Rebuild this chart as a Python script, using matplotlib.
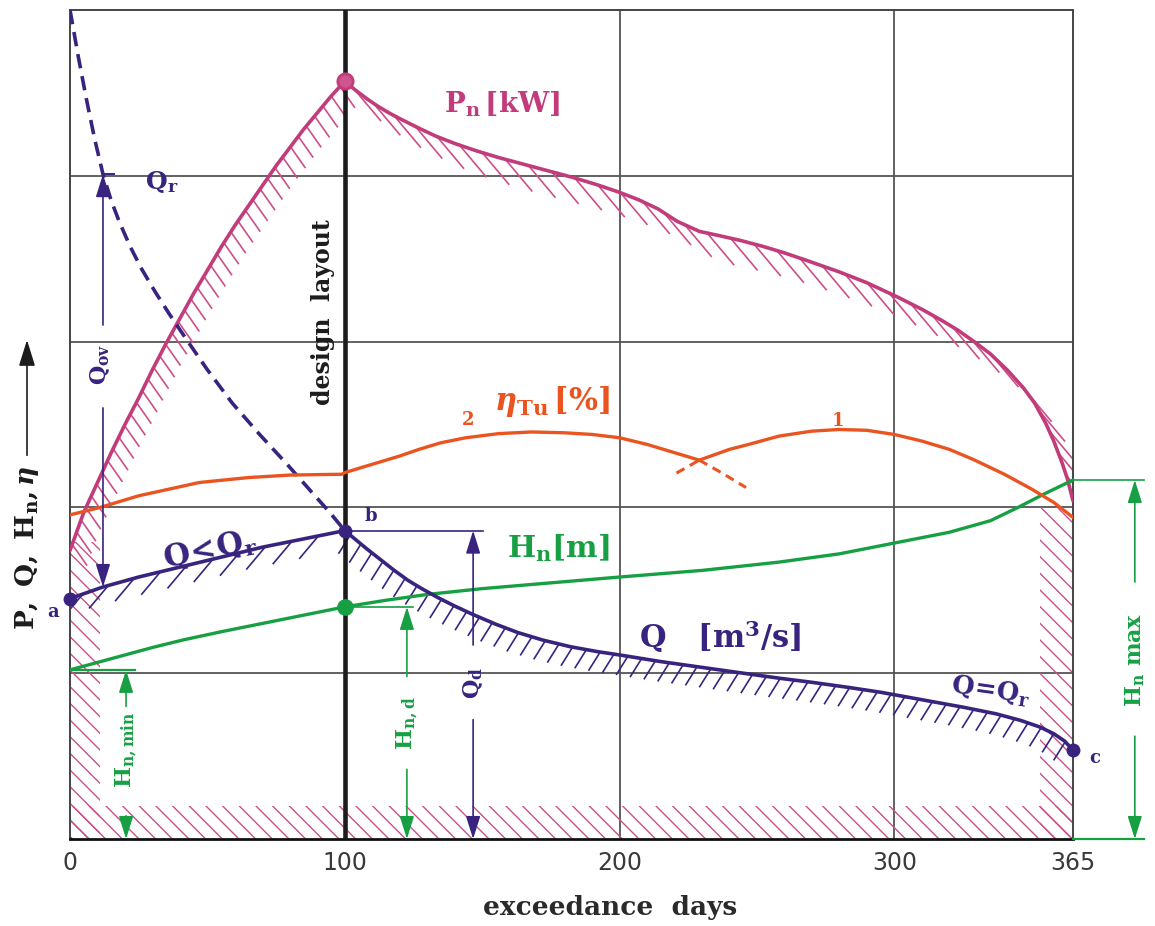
import numpy as np
import matplotlib
matplotlib.use("Agg")
import matplotlib.pyplot as plt
from matplotlib.collections import LineCollection

plt.rcParams['mathtext.fontset'] = 'custom'
plt.rcParams['mathtext.rm'] = 'DejaVu Serif:bold'
plt.rcParams['mathtext.bf'] = 'DejaVu Serif:bold'
plt.rcParams['mathtext.it'] = 'DejaVu Serif:italic:bold'
plt.rcParams['hatch.linewidth'] = 1.0

# ---- data (x = exceedance days, y = relative units 0..5) ----
pn_rise_days = [0, 5, 10, 15, 20, 25, 30, 35, 40, 45, 50, 55, 60, 65, 70, 75, 80, 85, 90, 95, 100]
pn_rise = [1.74, 1.97, 2.15, 2.33, 2.50, 2.66, 2.83, 2.99, 3.14, 3.29, 3.43, 3.57, 3.70, 3.82,
           3.94, 4.06, 4.17, 4.28, 4.38, 4.48, 4.57]
pn_fall_days = [100, 104, 108, 112, 116, 120, 126, 133, 140, 148, 156, 165, 174, 183, 192, 200,
                207, 214, 221, 225, 229, 236, 244, 252, 260, 268, 280, 290, 301, 310, 317, 323,
                329, 335, 341, 347, 351, 355, 358, 361, 363, 365]
pn_fall = [4.57, 4.515, 4.465, 4.42, 4.38, 4.345, 4.295, 4.24, 4.195, 4.15, 4.11, 4.07, 4.03,
           3.99, 3.945, 3.90, 3.855, 3.80, 3.725, 3.695, 3.665, 3.64, 3.61, 3.575, 3.535, 3.49,
           3.42, 3.355, 3.27, 3.195, 3.13, 3.07, 3.00, 2.925, 2.83, 2.72, 2.63, 2.51, 2.40, 2.27,
           2.17, 2.04]

q_rise_days = [0, 12, 25, 40, 55, 70, 85, 100]
q_rise = [1.45, 1.52, 1.58, 1.64, 1.70, 1.76, 1.81, 1.86]
q_fall_days = [100, 104, 108, 113, 118, 123, 128, 134, 140, 146.5, 155, 163, 172, 182, 192, 200,
               215, 230, 245, 258, 270, 283, 295, 310, 325, 337, 346, 353, 358, 362, 365]
q_fall = [1.86, 1.805, 1.75, 1.685, 1.62, 1.56, 1.51, 1.455, 1.405, 1.355, 1.295, 1.245, 1.20,
          1.16, 1.13, 1.11, 1.07, 1.035, 1.00, 0.97, 0.945, 0.915, 0.885, 0.84, 0.795, 0.755,
          0.715, 0.675, 0.635, 0.59, 0.535]

qr_days = [0, 3, 6, 9, 12, 15, 18, 22, 26, 31, 36, 42.5, 50, 59, 69, 79, 87, 94.5, 100]
qr = [5.0, 4.72, 4.46, 4.22, 4.01, 3.85, 3.72, 3.57, 3.44, 3.30, 3.17, 3.01, 2.83, 2.63, 2.44,
      2.26, 2.11, 1.97, 1.86]

hn_days = [0, 10, 20, 30, 41, 55, 70, 85, 100, 115, 130, 150, 175, 200, 230, 258, 280, 300, 320,
           335, 345, 355, 365]
hn = [1.02, 1.065, 1.11, 1.155, 1.20, 1.25, 1.30, 1.35, 1.40, 1.44, 1.475, 1.51, 1.545, 1.58,
      1.62, 1.67, 1.72, 1.785, 1.85, 1.92, 2.00, 2.085, 2.165]

eta2_days = [0, 11, 25, 47, 65, 80, 99, 100, 110, 120, 127, 135, 144, 156, 168, 180, 190, 200, 210,
             220, 229]
eta2 = [1.955, 2.0, 2.07, 2.15, 2.18, 2.195, 2.20, 2.21, 2.26, 2.31, 2.35, 2.39, 2.42, 2.445, 2.455,
        2.45, 2.44, 2.42, 2.38, 2.33, 2.285]
eta2_dash_days = [229, 237, 246]
eta2_dash = [2.285, 2.21, 2.12]
eta1_dash_days = [220.7, 229]
eta1_dash = [2.207, 2.285]
eta1_days = [229, 240, 247, 258, 270, 280, 290, 300, 310, 320, 328.6, 340, 350, 358, 365]
eta1 = [2.285, 2.35, 2.38, 2.43, 2.46, 2.47, 2.465, 2.44, 2.40, 2.35, 2.29, 2.20, 2.11, 2.03, 1.94]

design_day = 100
x_ticks = [0, 100, 200, 300, 365]
x_tick_labels = ['0', '100', '200', '300', '365']

MAG = '#c23b7a'
MAG_H = '#cc4f8a'
IND = '#38237f'
GRN = '#17a043'
ORA = '#ea5420'
GRID = '#555555'

fig = plt.figure(figsize=(11.55, 9.26), dpi=100)
ax = fig.add_axes([70 / 1155, 1 - 839 / 926, 1003 / 1155, 829 / 926])
ax.set_xlim(0, 365)
ax.set_ylim(0, 5)

# grid
for d in [200, 300]:
    ax.axvline(d, color=GRID, lw=1.3, zorder=1)
for v in [1, 2, 3, 4]:
    ax.axhline(v, color=GRID, lw=1.3, zorder=1)
ax.axvline(design_day, color='#1c1c1c', lw=3.3, zorder=4)

for side in ['left', 'top', 'right']:
    ax.spines[side].set_color('#444444')
    ax.spines[side].set_linewidth(1.4)
ax.spines['bottom'].set_color('#111111')
ax.spines['bottom'].set_linewidth(2)

ax.set_xticks(x_ticks)
ax.set_xticklabels(x_tick_labels, fontsize=17, color='#3a3a3a',
                   family=['Liberation Sans Narrow', 'DejaVu Sans'])
ax.set_yticks([])
ax.tick_params(axis='x', length=0, pad=9)

# hatched border strips
kw = dict(facecolor='none', edgecolor=MAG_H, linewidth=0, hatch='\\\\', zorder=2)
ax.fill_between([0, 11], 0, pn_rise[0] + 0.05, **kw)
ax.fill_between([0, 365], 0, 0.2, **kw)
ax.fill_between([353, 365], 0, 2.0, **kw)


def curve_ticks(x, y, spacing, length, angle, direction, color, lw=1.2):
    """short hatch strokes hanging below a curve, spaced along it in pixels"""
    pts = ax.transData.transform(np.column_stack([x, y]))
    seg = np.diff(pts, axis=0)
    s = np.concatenate([[0], np.cumsum(np.hypot(seg[:, 0], seg[:, 1]))])
    si = np.arange(spacing / 2, s[-1], spacing)
    px = np.interp(si, s, pts[:, 0])
    py = np.interp(si, s, pts[:, 1])
    a = np.radians(angle)
    ex = px + direction * length * np.cos(a)
    ey = py - length * np.sin(a)
    inv = ax.transData.inverted()
    p0 = inv.transform(np.column_stack([px, py]))
    p1 = inv.transform(np.column_stack([ex, ey]))
    segs = [[tuple(u), tuple(v)] for u, v in zip(p0, p1)]
    ax.add_collection(LineCollection(segs, colors=color, linewidths=lw, zorder=2))


curve_ticks(pn_rise_days, pn_rise, 13, 26, 55, 1, MAG_H)
curve_ticks(pn_fall_days, pn_fall, 24, 42, 50, 1, MAG_H)
curve_ticks(q_rise_days, q_rise, 27, 30, 50, -1, IND)
curve_ticks(q_fall_days, q_fall, 14, 22, 58, -1, IND)

# curves
ax.plot(pn_rise_days, pn_rise, color=MAG, lw=2.6, zorder=5, solid_capstyle='round')
ax.plot(pn_fall_days, pn_fall, color=MAG, lw=2.6, zorder=5, solid_capstyle='round')
ax.plot(qr_days, qr, color=IND, lw=2.6, ls=(0, (4, 2.2)), zorder=5)
ax.plot(q_rise_days, q_rise, color=IND, lw=2.6, zorder=6)
ax.plot(q_fall_days, q_fall, color=IND, lw=2.6, zorder=6)
ax.plot(hn_days, hn, color=GRN, lw=2.4, zorder=5)
ax.plot(eta2_days, eta2, color=ORA, lw=2.4, zorder=5)
ax.plot(eta2_dash_days, eta2_dash, color=ORA, lw=2.2, ls=(0, (3, 2)), zorder=5)
ax.plot(eta1_dash_days, eta1_dash, color=ORA, lw=2.2, ls=(0, (3, 2)), zorder=5)
ax.plot(eta1_days, eta1, color=ORA, lw=2.4, zorder=5)

# points
ax.plot(design_day, pn_rise[-1], 'o', ms=11, mfc='#d0548e', mec=MAG, mew=2, zorder=7)
ax.plot(design_day, hn[hn_days.index(100)], 'o', ms=11, color=GRN, zorder=7)
ax.plot([q_rise_days[0], design_day, q_fall_days[-1]], [q_rise[0], q_rise[-1], q_fall[-1]],
        'o', ms=9, color=IND, zorder=7, clip_on=False)


def dim_arrow(x, y_from, y_to, color):
    ax.annotate('', xy=(x, y_to), xytext=(x, y_from), annotation_clip=False,
                arrowprops=dict(arrowstyle='-|>,head_length=0.7,head_width=0.22', color=color,
                                lw=1.2, mutation_scale=20, shrinkA=0, shrinkB=0), zorder=6)


# Q_ov
q_ov_day = 12
dim_arrow(q_ov_day, 3.1, qr[4], IND)
dim_arrow(q_ov_day, 2.6, q_rise[1], IND)
ax.plot([q_ov_day, q_ov_day + 4], [qr[4], qr[4]], color=IND, lw=1.4, zorder=6)
# Q_d
q_d_day = 146.7
ax.plot([design_day, 150.3], [q_rise[-1], q_rise[-1]], color=IND, lw=1.2, zorder=6)
dim_arrow(q_d_day, 1.17, q_rise[-1], IND)
dim_arrow(q_d_day, 0.72, 0, IND)
# H_n,d
hnd_day = 122.6
hn_d = hn[hn_days.index(100)]
ax.plot([design_day, 124.8], [hn_d, hn_d], color=GRN, lw=1.2, zorder=6)
dim_arrow(hnd_day, 0.98, hn_d, GRN)
dim_arrow(hnd_day, 0.42, 0, GRN)
# H_n,min
hnmin_day = 20.4
ax.plot([0, 23.6], [hn[0], hn[0]], color=GRN, lw=1.6, zorder=6)
dim_arrow(hnmin_day, 0.80, hn[0], GRN)
dim_arrow(hnmin_day, 0.14, 0, GRN)
# H_n max
hnmax_day = 387.5
ax.plot([365, 391], [hn[-1], hn[-1]], color=GRN, lw=1.2, clip_on=False, zorder=6)
ax.plot([365, 391], [0, 0], color=GRN, lw=1.6, clip_on=False, zorder=6)
dim_arrow(hnmax_day, 1.55, hn[-1], GRN)
dim_arrow(hnmax_day, 0.62, 0, GRN)

# labels
ax.text(157.2, 4.43, r'$\mathrm{P_n\,[kW]}$', color=MAG, fontsize=20, ha='center', va='center')
ax.text(33.5, 3.96, r'$\mathrm{Q_r}$', color=IND, fontsize=18, ha='center', va='center')
ax.text(92.1, 3.18, 'design  layout', rotation=90, fontsize=17, fontweight='bold',
        family='DejaVu Serif', color='#1c1c1c', ha='center', va='center')
ax.text(144.8, 2.53, '2', color=ORA, fontsize=13, fontweight='bold', family='DejaVu Serif',
        ha='center', va='center')
ax.text(175.5, 2.64, r'$\eta_\mathrm{Tu}\,\mathrm{[\%]}$', color=ORA, fontsize=22,
        ha='center', va='center')
ax.text(279.5, 2.52, '1', color=ORA, fontsize=13, fontweight='bold', family='DejaVu Serif',
        ha='center', va='center')
ax.text(109.5, 1.95, 'b', color=IND, fontsize=13, fontweight='bold', family='DejaVu Serif',
        ha='center', va='center')
ax.text(-6.2, 1.37, 'a', color=IND, fontsize=13, fontweight='bold', family='DejaVu Serif',
        ha='center', va='center', clip_on=False)
ax.text(373, 0.49, 'c', color=IND, fontsize=13, fontweight='bold', family='DejaVu Serif',
        ha='center', va='center', clip_on=False)
ax.text(51, 1.74, r'$\mathrm{Q\!<\!Q_r}$', color=IND, fontsize=22, rotation=12,
        ha='center', va='center')
ax.text(177.6, 1.755, r'$\mathrm{H_n[m]}$', color=GRN, fontsize=21.5, ha='center', va='center')
ax.text(236.5, 1.22, r'$\mathrm{Q\ \ \ [m^3/s]}$', color=IND, fontsize=22, ha='center',
        va='center')
ax.text(335, 0.89, r'$\mathrm{Q\!=\!Q_r}$', color=IND, fontsize=18.5, rotation=-8,
        ha='center', va='center')
ax.text(hnmin_day, 0.54, r'$\mathrm{H_{n,min}}$', color=GRN, fontsize=16, rotation=90,
        ha='center', va='center')
ax.text(hnd_day, 0.70, r'$\mathrm{H_{n,d}}$', color=GRN, fontsize=16, rotation=90,
        ha='center', va='center')
ax.text(q_d_day, 0.94, r'$\mathrm{Q_d}$', color=IND, fontsize=16, rotation=90,
        ha='center', va='center')
ax.text(11, 2.86, r'$\mathrm{Q_{ov}}$', color=IND, fontsize=16, rotation=90,
        ha='center', va='center')
ax.text(hnmax_day, 1.08, r'$\mathrm{H_n\ max}$', color=GRN, fontsize=16, rotation=90,
        ha='center', va='center', clip_on=False)

fig.text(27, 926 - 548, r'$\mathrm{P,\ Q,\ H_n,}\eta$', transform=None, rotation=90,
         fontsize=19, color='#1c1c1c', ha='center', va='center')
fig.add_artist(plt.Line2D([27, 27], [926 - 455, 926 - 350], transform=None, color='#1c1c1c',
                          lw=1.2))
ax.annotate('', xy=(27, 926 - 340), xycoords='figure pixels', xytext=(27, 926 - 360),
            textcoords='figure pixels',
            arrowprops=dict(arrowstyle='-|>,head_length=0.8,head_width=0.25', color='#1c1c1c',
                            lw=1.2, mutation_scale=20, shrinkA=0, shrinkB=0))
fig.text(610, 926 - 908, 'exceedance  days', transform=None, fontsize=19, fontweight='bold',
         family='DejaVu Serif', color='#2a2a2a', ha='center', va='center')

fig.savefig('out.png', dpi=100)
